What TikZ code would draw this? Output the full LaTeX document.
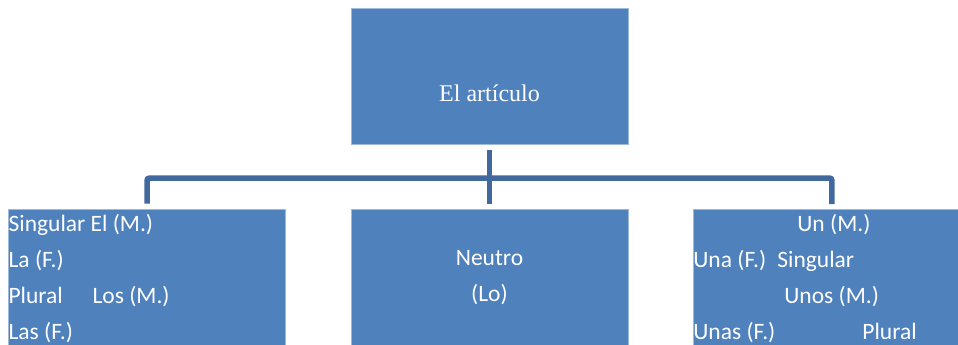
\documentclass[tikz,border=0pt]{standalone}
\usepackage{fontspec}
\setmainfont{Carlito}
\newfontfamily\titulofont{Liberation Serif}
\usetikzlibrary{positioning}
\definecolor{azul}{RGB}{79,129,189}
\definecolor{azuloscuro}{RGB}{65,105,157}
\tikzset{
    %Define style for boxes
    caja/.style={
           rectangle,
           fill=azul,
           draw=azul!55!white, thin,
           minimum width=277pt,
           minimum height=136pt,
           inner sep=0pt},
    % Define text style
    texto/.style={
           text=white,
           inner sep=0pt,
           font=\fontsize{23.5}{36}\selectfont},
    % Define connector style
    linea/.style={
           line width=5.5pt,
           draw=azuloscuro,
           rounded corners=2pt,
           shorten <=5.5pt,
           shorten >=5pt,}
}

\begin{document}
\begin{tikzpicture}[x=1pt,y=1pt]
  \clip (0,0) rectangle (958,-345);
  %nodes
  \node[caja] (art) at (489.5,-76) {};
  \node[caja, below=65pt of art] (neutro) {};
  \node[caja, left=65pt of neutro] (def) {};
  \node[caja, right=65pt of neutro] (indef) {};
  \coordinate[below=34pt of art] (barra);
  %connectors
  \draw[linea] (art) -- (neutro);
  \draw[linea] (def.north) |- (barra) -| (indef.north);
  %texts
  \node[texto, font=\titulofont\fontsize{24}{28}\selectfont, anchor=base]
       (titulo) at ([yshift=-94pt]art.north) {El artículo};
  \node[texto, anchor=base west] (sing) at ([yshift=-22pt]def.north west) {Singular El (M.)};
  \node[texto, anchor=base west] (la) at ([yshift=-58pt]def.north west) {La (F.)};
  \node[texto, anchor=base west] (plural) at ([yshift=-94pt]def.north west) {Plural};
  \node[texto, anchor=base west] (los) at ([xshift=84pt,yshift=-94pt]def.north west) {Los (M.)};
  \node[texto, anchor=base west] (las) at ([yshift=-130pt]def.north west) {Las (F.)};
  \node[texto, anchor=base] (neu) at ([yshift=-56pt]neutro.north) {Neutro};
  \node[texto, anchor=base] (lo) at ([yshift=-92pt]neutro.north) {(Lo)};
  \node[texto, anchor=base west] (un) at ([xshift=104pt,yshift=-22pt]indef.north west) {Un (M.)};
  \node[texto, anchor=base west] (una) at ([yshift=-58pt]indef.north west) {Una (F.)};
  \node[texto, anchor=base west] (singi) at ([xshift=84pt,yshift=-58pt]indef.north west) {Singular};
  \node[texto, anchor=base west] (unos) at ([xshift=91pt,yshift=-94pt]indef.north west) {Unos (M.)};
  \node[texto, anchor=base west] (unas) at ([yshift=-130pt]indef.north west) {Unas (F.)};
  \node[texto, anchor=base west] (pluri) at ([xshift=169pt,yshift=-130pt]indef.north west) {Plural};
\end{tikzpicture}
\end{document}
